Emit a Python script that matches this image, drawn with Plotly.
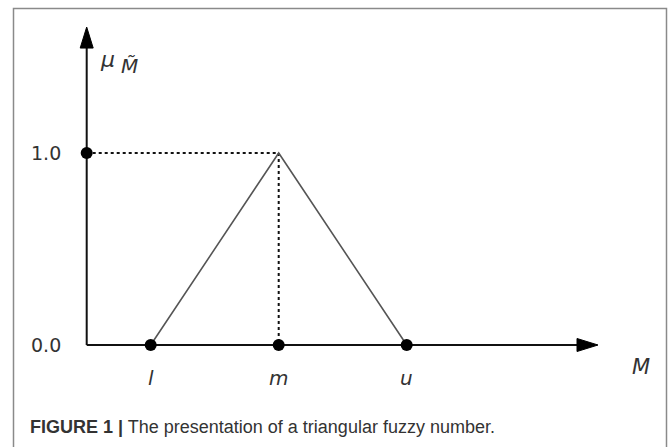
import plotly.graph_objects as go

# ---- data ----
categories = ["l", "m", "u"]
cat_x = [1, 2, 3]
membership = [0.0, 1.0, 0.0]
tick_values = [0.0, 1.0]
tick_labels = ["0.0", "1.0"]
origin_x = 0.5
axis_x_end = 4.4945
axis_y_end = 1.656

W, H = 669, 447
# page-pixel -> data helpers (for decoration only)
AX, BX = 22.7, 128.0
AY, BY = 345.0, -192.0
def dx(px): return (px - AX) / BX
def dy(py): return (py - AY) / BY

fig = go.Figure()

# dotted guides
fig.add_trace(go.Scatter(x=[origin_x, cat_x[1]], y=[membership[1], membership[1]], mode="lines",
                         line=dict(color="#111", width=2, dash="dot"), hoverinfo="skip"))
fig.add_trace(go.Scatter(x=[cat_x[1], cat_x[1]], y=[membership[1], 0], mode="lines",
                         line=dict(color="#111", width=2, dash="dot"), hoverinfo="skip"))
# triangle
fig.add_trace(go.Scatter(x=cat_x, y=membership, mode="lines",
                         line=dict(color="#555", width=1.6), hoverinfo="skip"))
# axes
fig.add_trace(go.Scatter(x=[origin_x, axis_x_end - 0.1], y=[0, 0], mode="lines",
                         line=dict(color="#111", width=2), hoverinfo="skip"))
fig.add_trace(go.Scatter(x=[origin_x, origin_x], y=[0, axis_y_end - 0.08], mode="lines",
                         line=dict(color="#111", width=2), hoverinfo="skip"))
# markers
fig.add_trace(go.Scatter(x=cat_x, y=[0, 0, 0], mode="markers",
                         marker=dict(color="#000", size=12), hoverinfo="skip"))
fig.add_trace(go.Scatter(x=[origin_x], y=[tick_values[1]], mode="markers",
                         marker=dict(color="#000", size=12), hoverinfo="skip"))

shapes = []
# arrowheads
hx = 6.5 / BX
hy = 6.5 / abs(BY)
bx = axis_x_end - 21 / BX
shapes.append(dict(type="path", xref="x", yref="y",
                   path=f"M {bx},{hy} L {axis_x_end},0 L {bx},{-hy} Z",
                   fillcolor="#000", line=dict(color="#000", width=1)))
by = axis_y_end - 21 / abs(BY)
shapes.append(dict(type="path", xref="x", yref="y",
                   path=f"M {origin_x - hx},{by} L {origin_x},{axis_y_end} L {origin_x + hx},{by} Z",
                   fillcolor="#000", line=dict(color="#000", width=1)))
# frame (paper coords)
shapes.append(dict(type="rect", xref="paper", yref="paper",
                   x0=13.5 / W, x1=666.5 / W, y0=-0.1, y1=1 - 8.5 / H,
                   line=dict(color="#8a8a8a", width=1.5), fillcolor="rgba(0,0,0,0)"))

ann = []
txt = "#333"
for v, lab in zip(tick_values, tick_labels):
    ann.append(dict(x=dx(46), y=v, xref="x", yref="y", text=lab, showarrow=False,
                    font=dict(family="DejaVu Sans", size=19, color=txt)))
for xv, lab in zip(cat_x, categories):
    ann.append(dict(x=xv, y=dy(378), xref="x", yref="y", text=f"<i>{lab}</i>", showarrow=False,
                    font=dict(family="DejaVu Sans", size=20, color=txt)))
ann.append(dict(x=dx(641), y=dy(367), xref="x", yref="y", text="<i>M</i>", showarrow=False,
                font=dict(family="DejaVu Sans", size=21, color=txt)))
ann.append(dict(x=dx(107), y=dy(59), xref="x", yref="y", text="<i>μ</i>", showarrow=False,
                font=dict(family="DejaVu Sans", size=22, color=txt)))
ann.append(dict(x=dx(129), y=dy(66), xref="x", yref="y", text="<i>M\u0303</i>", showarrow=False,
                font=dict(family="DejaVu Sans", size=20, color=txt)))
ann.append(dict(x=dx(28), y=dy(427), xref="x", yref="y", xanchor="left",
                text="<b>FIGURE 1 |</b> The presentation of a triangular fuzzy number.",
                showarrow=False,
                font=dict(family="Liberation Sans Narrow, Arial Narrow, Liberation Sans", size=18, color="#333")))

fig.update_layout(
    width=W, height=H, margin=dict(l=0, r=0, t=0, b=0),
    paper_bgcolor="white", plot_bgcolor="white", showlegend=False,
    xaxis=dict(range=[dx(0), dx(W)], visible=False, fixedrange=True),
    yaxis=dict(range=[dy(H), dy(0)], visible=False, fixedrange=True),
    shapes=shapes, annotations=ann,
)
fig.write_html("out.html", config=dict(displayModeBar=False, staticPlot=True),
               post_script="document.body.style.margin='0';document.body.style.overflow='hidden';")
